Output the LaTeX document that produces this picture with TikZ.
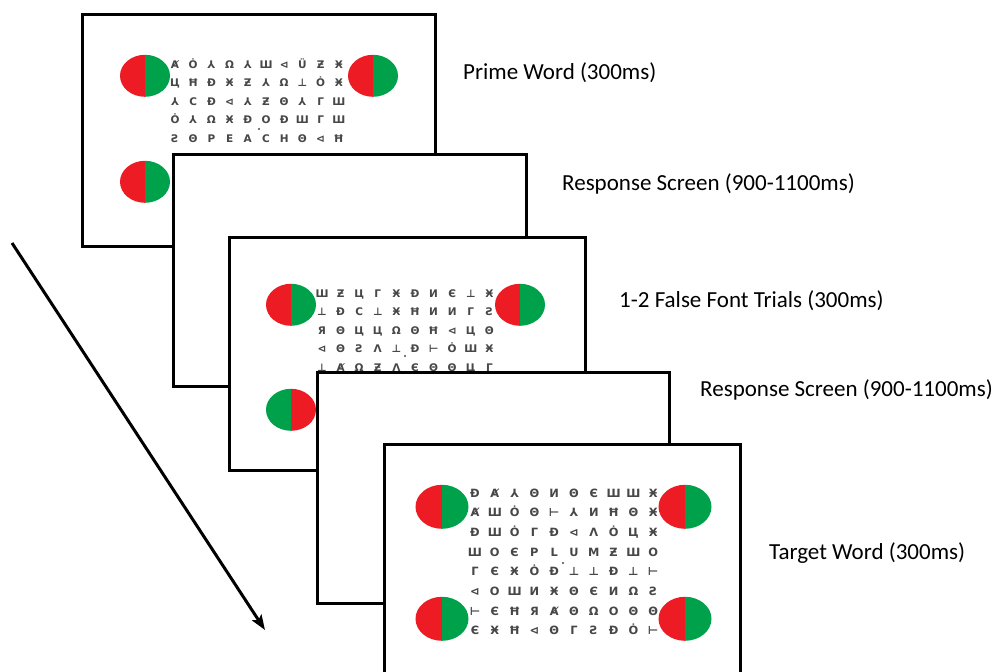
\documentclass[tikz,border=0pt]{standalone}
\usepackage{fontspec}
\newfontfamily\labelfont{Carlito}
\newfontfamily\glyphfont{DejaVu Sans}
\usetikzlibrary{arrows.meta,shapes.geometric}
\definecolor{bred}{RGB}{237,28,36}
\definecolor{bgreen}{RGB}{0,161,75}
\tikzset{
  screen/.style={draw=black, line width=2.8pt, fill=white, anchor=north west, inner sep=0pt},
  discnode/.style={ellipse, inner sep=0pt},
  glyph/.style={font=\glyphfont\bfseries\fontsize{10.5}{10.5}\selectfont, text=black!72, inner sep=0pt, anchor=base},
  bigglyph/.style={glyph, font=\glyphfont\bfseries\fontsize{11.4}{11.4}\selectfont},
  fixdot/.style={circle, fill=black!70, inner sep=0pt, minimum size=2.4pt},
  lbl/.style={font=\labelfont\fontsize{23}{26}\selectfont, inner sep=0pt, anchor=base west},
  flow/.style={line width=3pt, -{Stealth[length=15pt,width=11pt,inset=3pt]}}
}
% #1 name, #2 position, #3 left colour, #4 right colour, #5 x radius, #6 y radius
\newcommand\twodisc[6]{%
  \node[discnode, minimum width=2*#5, minimum height=2*#6] (#1) at #2 {};
  \fill[#3] (#1.north) arc[start angle=90, end angle=270, x radius=#5, y radius=#6] -- cycle;
  \fill[#4] (#1.north) arc[start angle=90, end angle=-90, x radius=#5, y radius=#6] -- cycle;
}
% #1 prefix, #2 style, #3 x0, #4 y0 (baseline), #5 dx, #6 dy, #7 rows
\newcommand\glyphgrid[7]{%
  \foreach \rowlist [count=\r] in {#7} {
    \foreach \g [count=\c] in \rowlist {
      \node[#2] (#1-\r-\c) at ({#3+(\c-1)*#5},{#4+(\r-1)*#6}) {\g};
    }
  }
}
\begin{document}
\begin{tikzpicture}[x=1pt,y=-1pt]
\useasboundingbox (0,0) rectangle (997,672);
\clip (0,0) rectangle (997,672);

% Screen 1: prime word
\begin{scope}[shift={(81,13)}]
  \node[screen, minimum width=353pt, minimum height=232pt] (s1) at (0,0) {};
  \twodisc{s1tl}{(64,63)}{bred}{bgreen}{25pt}{21pt}
  \twodisc{s1tr}{(292,63)}{bred}{bgreen}{25pt}{21pt}
  \twodisc{s1bl}{(64,169)}{bred}{bgreen}{25pt}{21pt}
  \glyphgrid{g1}{glyph}{94}{55}{18.2}{18.5}{
    {Ⱥ,Ȯ,⅄,Ω,⅄,Ш,⊲,Ü,Ƶ,Ӿ},
    {Ц,Ħ,Đ,Ӿ,Ƶ,⅄,Ω,⊥,Ȯ,Ӿ},
    {⅄,C,Đ,⊲,⅄,Ƶ,Θ,⅄,Γ,Ш},
    {Ȯ,⅄,Ω,Ӿ,Đ,O,Đ,Ш,Γ,Ш},
    {Ƨ,Θ,P,E,A,C,H,Θ,⊲,Ħ}}
  \node[fixdot] (s1dot) at (178,116) {};
\end{scope}

% Screen 2: response screen
\node[screen, minimum width=353pt, minimum height=232pt] (s2) at (172,153) {};

% Screen 3: false font trial
\begin{scope}[shift={(228,236)}]
  \node[screen, minimum width=356pt, minimum height=233pt] (s3) at (0,0) {};
  \twodisc{s3tl}{(63,69)}{bred}{bgreen}{25pt}{21pt}
  \twodisc{s3tr}{(292,69)}{bred}{bgreen}{25pt}{21pt}
  \twodisc{s3bl}{(63,174)}{bgreen}{bred}{25pt}{21pt}
  \glyphgrid{g3}{glyph}{94}{61}{18.6}{18.5}{
    {Ш,Ƶ,Ц,Γ,Ӿ,Đ,И,Є,⊥,Ӿ},
    {⊥,Đ,C,⊥,Ӿ,Ħ,И,И,Γ,Ƨ},
    {Я,Θ,Ц,Ц,Ω,Θ,Ħ,⊲,Ц,Θ},
    {⊲,Θ,Ƨ,Λ,⊥,Đ,⊢,Ȯ,Ш,Ӿ},
    {⊥,Ⱥ,Ω,Ƶ,Λ,Є,Θ,Θ,Ц,Γ}}
  \node[fixdot] (s3dot) at (177,120) {};
\end{scope}

% Screen 4: response screen
\node[screen, minimum width=352pt, minimum height=231pt] (s4) at (316,371) {};

% Screen 5: target word
\begin{scope}[shift={(383,443)}]
  \node[screen, minimum width=356pt, minimum height=233pt] (s5) at (0,0) {};
  \twodisc{s5tl}{(59,64)}{bred}{bgreen}{26.5pt}{22pt}
  \twodisc{s5tr}{(302,64)}{bred}{bgreen}{26.5pt}{22pt}
  \twodisc{s5bl}{(59,176)}{bred}{bgreen}{26.5pt}{22pt}
  \twodisc{s5br}{(302,176)}{bred}{bgreen}{26.5pt}{22pt}
  \glyphgrid{g5}{bigglyph}{92}{54}{19.8}{19.7}{
    {Đ,Ⱥ,⅄,Θ,И,Θ,Є,Ш,Ш,Ӿ},
    {Ⱥ,Ш,Ȯ,Θ,⊢,⅄,И,Ħ,Θ,Ӿ},
    {Đ,Ш,Ȯ,Γ,Đ,⊲,Λ,Ȯ,Ц,Ӿ},
    {Ш,O,Є,P,L,U,M,Ƶ,Ш,O},
    {Γ,Є,Ӿ,Ȯ,Đ,⊥,⊥,Đ,⊥,⊢},
    {⊲,O,Ш,И,Ӿ,Θ,Є,И,Ω,Ƨ},
    {⊢,Є,Ħ,Я,Ⱥ,Θ,Ω,O,Θ,Θ},
    {Є,Ӿ,Ħ,⊲,Θ,Γ,Ƨ,Đ,Ȯ,⊢}}
  \node[fixdot] (s5dot) at (180,120) {};
\end{scope}

% Labels
\node[lbl] (l1) at (463,79) {Prime Word (300ms)};
\node[lbl] (l2) at (562,190) {Response Screen (900-1100ms)};
\node[lbl] (l3) at (619,307) {1-2 False Font Trials (300ms)};
\node[lbl] (l4) at (700,396) {Response Screen (900-1100ms)};
\node[lbl] (l5) at (769,559) {Target Word (300ms)};

% Time arrow
\coordinate (tstart) at (12,243);
\coordinate (tend) at (265,630);
\draw[flow] (tstart) -- (tend);
\end{tikzpicture}
\end{document}
